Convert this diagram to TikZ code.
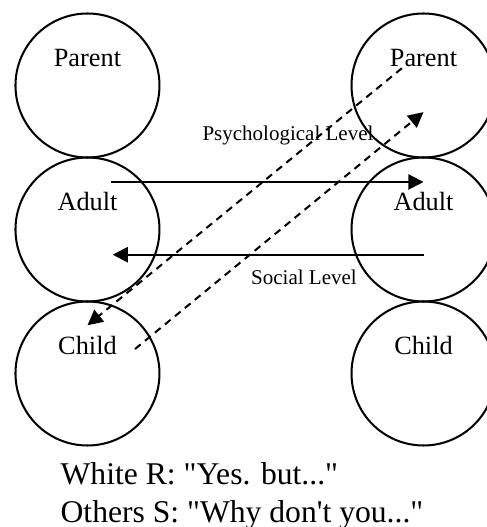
\documentclass[tikz,border=0pt]{standalone}
\usepackage{fontspec}
\setmainfont{Liberation Serif}[Ligatures=TeXOff]
\usetikzlibrary{arrows.meta, calc, positioning}

\tikzset{
  ego/.style={circle, draw, line width=0.8pt, minimum size=2cm, inner sep=0pt},
  ego label/.style={label distance=-0.88cm, font=\fontsize{10.4}{12}\selectfont},
  msg/.style={line width=0.8pt, -{Triangle[length=6pt, width=6pt]}},
  hidden/.style={msg, dash pattern=on 2.9pt off 2.2pt},
  level/.style={font=\fontsize{8.3}{10}\selectfont, inner sep=0pt},
  says/.style={anchor=base west, inner sep=0pt, font=\fontsize{12.5}{15}\selectfont}
}

\begin{document}
\begin{tikzpicture}
                        \useasboundingbox (-1.215, 1.1875) rectangle (5.535, -6.132);

                        \node[ego, label={[ego label]90:Parent}] (p1) at (0, 0) {};
                        \node[ego, label={[ego label]90:Adult}] (a1) at (0, -2) {};
                        \node[ego, label={[ego label]90:Child}] (c1) at (0, -4) {};
                        \node[ego, label={[ego label]90:Parent}] (p2) at (4.667, 0) {};
                        \node[ego, label={[ego label]90:Adult}] (a2) at (4.667, -2) {};
                        \node[ego, label={[ego label]90:Child}] (c2) at (4.667, -4) {};

                        \draw
                        ($(a1)+(0.33,0.66)$) edge[msg] ($(a2)+(0,0.66)$)
                        ($(a2)+(0.01,-0.35)$) edge[msg] ($(a1)+(0.35,-0.35)$)
                        ($(p2)+(-0.3,0.24)$) edge[hidden] ($(c1)+(0,0.67)$)
                        ($(c1)+(0.66,0.34)$) edge[hidden] ($(p2)+(0,-0.37)$);

                        \node[level] (psy) at (2.785, -0.6875) {Psychological Level};
                        \node[level] (soc) at (3.007, -2.66) {Social Level};

                        \node[says] (r) at (-0.38, -5.535) {White R: "Yes. but..."};
                        \node[says] (s) at (-0.38, -6.076) {Others S: "Why don't you..."};
                    \end{tikzpicture}
\end{document}
